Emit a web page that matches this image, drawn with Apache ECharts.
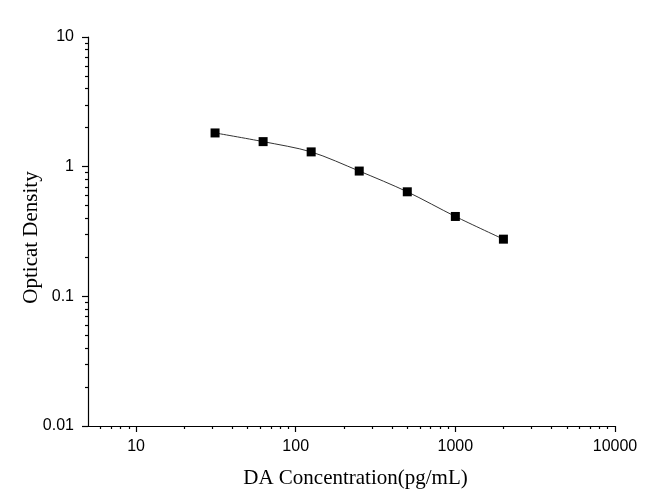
<!DOCTYPE html>
<html>
<head>
<meta charset="utf-8">
<script src="https://cdn.jsdelivr.net/npm/echarts@6/dist/echarts.min.js"></script>
<style>
html,body{margin:0;padding:0;background:#fff;}
#chart{width:650px;height:500px;}
</style>
</head>
<body>
<div id="chart"></div>
<script>
// 浓度 / 吸光度
var concentration = [31.25, 62.5, 125, 250, 500, 1000, 2000];
var od = [1.82, 1.56, 1.30, 0.925, 0.64, 0.413, 0.276];
var xMajor = [10, 100, 1000, 10000];
var xMinor = [6, 7, 8, 9, 20, 30, 40, 50, 60, 70, 80, 90, 200, 300, 400, 500, 600, 700, 800, 900, 2000, 3000, 4000, 5000, 6000, 7000, 8000, 9000];
var yMajor = [0.01, 0.1, 1, 10];
var yMinor = [0.02, 0.03, 0.04, 0.05, 0.06, 0.07, 0.08, 0.09, 0.2, 0.3, 0.4, 0.5, 0.6, 0.7, 0.8, 0.9, 2, 3, 4, 5, 6, 7, 8, 9];

var pts = [];
for (var i = 0; i < concentration.length; i++) {
	pts.push([concentration[i], od[i]]);
}

var lineStyle = {color: '#000', width: 1.2};
var labelFont = {color: '#000', fontSize: 16, fontFamily: 'Liberation Sans', formatter: function(v){ return String(v); }};

var option = {
	animation: false,
	grid: {left: 88, right: 35, top: 37, bottom: 74},
	xAxis: [{
		type: 'log',
		min: 5,
		max: 10000,
		name: 'DA Concentration(pg/mL)',
		nameLocation: 'middle',
		nameGap: 42,
		nameTextStyle: {color: '#000', fontSize: 21, fontFamily: 'Liberation Serif', padding: [0, 0, 0, 8]},
		axisLine: {show: true, lineStyle: lineStyle},
		axisTick: {show: true, inside: false, length: 6, lineStyle: lineStyle, customValues: xMajor},
		axisLabel: Object.assign({margin: 13, customValues: xMajor}, labelFont),
		splitLine: {show: false},
		minorTick: {show: false}
	}, {
		type: 'log',
		min: 5,
		max: 10000,
		position: 'bottom',
		axisLine: {show: false},
		axisTick: {show: true, inside: false, length: 3, lineStyle: lineStyle, customValues: xMinor},
		axisLabel: {show: false},
		splitLine: {show: false}
	}],
	yAxis: [{
		type: 'log',
		min: 0.01,
		max: 10,
		name: 'Opticat Density',
		nameLocation: 'middle',
		nameGap: 46,
		nameMoveOverlap: false,
		nameTextStyle: {color: '#000', fontSize: 21, fontFamily: 'Liberation Serif', padding: [0, 12, 0, 0]},
		axisLine: {show: true, lineStyle: lineStyle},
		axisTick: {show: true, inside: false, length: 6, lineStyle: lineStyle, customValues: yMajor},
		axisLabel: Object.assign({margin: 14, customValues: yMajor}, labelFont),
		splitLine: {show: false}
	}, {
		type: 'log',
		min: 0.01,
		max: 10,
		position: 'left',
		axisLine: {show: false},
		axisTick: {show: true, inside: false, length: 3, lineStyle: lineStyle, customValues: yMinor},
		axisLabel: {show: false},
		splitLine: {show: false}
	}],
	series: [{
		type: 'line',
		data: pts,
		smooth: 0.3,
		symbol: 'rect',
		symbolSize: 9,
		itemStyle: {color: '#000'},
		lineStyle: {color: '#333', width: 1}
	}]
};
var myChart = echarts.init(document.getElementById('chart'));
myChart.setOption(option);
</script>
</body>
</html>
